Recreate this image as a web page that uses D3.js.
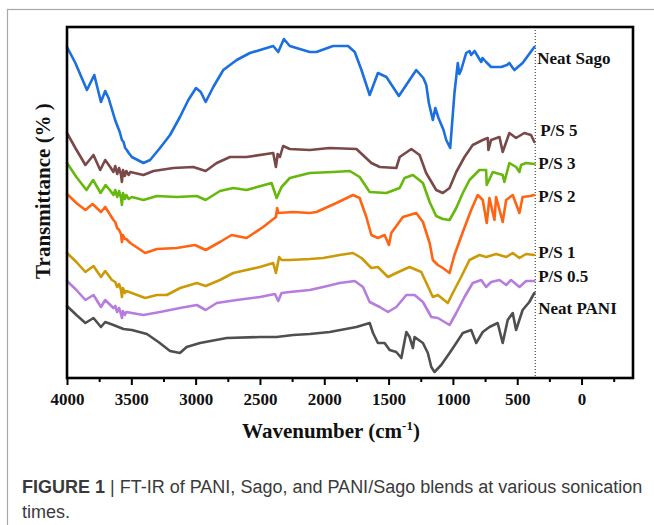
<!DOCTYPE html>
<html>
<head>
<meta charset="utf-8">
<script src="https://cdn.jsdelivr.net/npm/d3@7"></script>
<style>
  html, body { margin: 0; padding: 0; background: #fff; }
  svg { display: block; }
</style>
</head>
<body>
<svg id="chart" width="654" height="525"></svg>
<script>
// FT-IR spectra: [wavenumber (cm-1), transmittance (a.u., stacked offsets)]
const neatSago = [
  [4000,331],[3935,315],[3845,288],[3788,303],[3736,276],[3703,287],[3677,280],[3626,258],
  [3590,246],[3573,238],[3560,236],[3548,230],[3535,228],[3520,225],[3496,221],[3406,215],
  [3354,218],[3277,230],[3199,243],[3122,261],[3057,278],[2997,290],[2960,286],[2922,276],
  [2863,291],[2785,308],[2681,318],[2578,325],[2397,332],[2358,326],[2314,339],[2268,332],
  [2113,326],[2061,326],[1932,332],[1815,332],[1763,326],[1711,308],[1647,283],[1583,305],
  [1517,301],[1420,282],[1285,308],[1230,300],[1207,293],[1187,275],[1156,258],[1137,270],
  [1112,260],[1073,248],[1052,238],[1021,230],[988,285],[962,315],[950,304],[936,308],
  [897,325],[871,327],[858,323],[832,327],[780,316],[770,320],[742,316],[703,311],[625,311],
  [580,313],[561,315],[540,311],[522,308],[458,315],[367,331]
];
const ps5 = [
  [4000,245],[3935,230],[3857,213],[3794,223],[3742,208],[3703,218],[3664,211],[3639,206],
  [3625,212],[3610,204],[3595,210],[3580,203],[3573,196],[3565,208],[3550,202],[3539,207],
  [3520,203],[3508,206],[3406,203],[3328,207],[3173,210],[3018,211],[2922,207],[2836,215],
  [2733,221],[2604,221],[2397,225],[2376,211],[2362,224],[2345,221],[2320,232],[2268,229],
  [2113,228],[1958,230],[1750,229],[1634,215],[1569,211],[1440,210],[1414,221],[1323,229],
  [1259,223],[1208,205],[1130,188],[1078,185],[1026,190],[974,206],[910,221],[846,233],
  [768,238],[729,240],[724,228],[703,238],[638,241],[613,226],[561,245],[509,240],
  [445,245],[393,243],[367,236]
];
const ps3 = [
  [4000,215],[3927,201],[3849,188],[3797,198],[3739,185],[3700,193],[3667,188],[3639,183],
  [3625,188],[3610,181],[3595,187],[3580,180],[3573,173],[3565,185],[3550,179],[3539,183],
  [3520,179],[3496,181],[3406,178],[3301,182],[3147,181],[2991,182],[2922,178],[2811,187],
  [2708,190],[2604,188],[2410,195],[2370,180],[2332,191],[2268,200],[2113,205],[1932,206],
  [1802,207],[1725,201],[1647,186],[1517,185],[1414,190],[1376,200],[1311,203],[1233,195],
  [1181,176],[1130,162],[1078,159],[1026,158],[974,170],[923,185],[871,198],[794,208],
  [742,208],[737,193],[690,206],[613,203],[600,196],[561,215],[509,211],[483,206],
  [470,213],[431,215],[367,214]
];
const ps2 = [
  [4000,184],[3927,175],[3857,168],[3801,174],[3736,166],[3703,171],[3639,158],[3625,156],
  [3610,150],[3595,148],[3580,144],[3573,136],[3565,143],[3550,139],[3539,139],[3508,135],
  [3392,125],[3301,129],[3147,130],[3005,133],[2922,128],[2811,136],[2720,143],[2604,140],
  [2475,151],[2376,161],[2366,170],[2358,165],[2242,166],[2113,165],[2061,166],[1905,175],
  [1777,183],[1725,180],[1673,161],[1634,143],[1583,140],[1531,143],[1497,133],[1479,145],
  [1389,161],[1285,165],[1233,156],[1181,135],[1156,118],[1117,113],[1078,110],[1026,105],
  [988,123],[923,146],[858,168],[807,183],[768,178],[737,155],[716,180],[677,158],
  [664,181],[613,156],[586,178],[535,183],[483,165],[458,181],[400,182],[367,183]
];
const ps1 = [
  [4000,125],[3927,116],[3857,106],[3794,112],[3736,101],[3703,107],[3651,98],[3625,96],
  [3610,91],[3595,94],[3580,88],[3573,81],[3565,90],[3550,85],[3539,87],[3496,85],
  [3392,80],[3301,83],[3224,83],[3120,90],[2991,95],[2922,92],[2811,98],[2708,105],
  [2500,111],[2397,115],[2376,105],[2351,121],[2332,118],[2268,118],[2113,119],[2009,120],
  [1880,123],[1777,125],[1711,120],[1634,110],[1583,111],[1505,101],[1440,105],[1337,111],
  [1246,106],[1181,88],[1156,81],[1117,83],[1040,75],[1001,85],[936,101],[871,118],
  [794,123],[742,121],[664,124],[586,121],[535,125],[483,120],[431,124],[367,123]
];
const ps05 = [
  [4000,97],[3927,88],[3857,78],[3794,83],[3736,71],[3703,78],[3639,70],[3625,72],
  [3610,66],[3595,70],[3580,64],[3573,60],[3565,67],[3550,63],[3539,66],[3496,65],
  [3406,63],[3277,66],[3122,70],[2991,73],[2922,68],[2836,75],[2681,78],[2500,81],
  [2384,84],[2358,77],[2332,85],[2268,86],[2113,88],[2009,91],[1880,95],[1763,97],
  [1699,91],[1647,76],[1569,71],[1505,66],[1440,71],[1362,83],[1298,83],[1233,76],
  [1168,61],[1117,60],[1026,53],[974,65],[910,81],[846,95],[780,98],[742,91],
  [703,96],[638,98],[586,93],[548,98],[483,91],[431,97],[367,97]
];
const neatPani = [
  [4000,72],[3927,63],[3857,55],[3794,60],[3736,51],[3703,56],[3639,53],[3600,51],
  [3561,49],[3496,48],[3379,44],[3289,36],[3199,27],[3122,25],[3070,31],[2966,35],
  [2759,40],[2500,41],[2371,41],[2242,43],[2113,44],[1958,46],[1750,51],[1647,55],
  [1621,45],[1583,35],[1531,35],[1492,28],[1440,26],[1401,20],[1362,46],[1337,41],
  [1311,30],[1298,41],[1233,35],[1195,25],[1168,11],[1143,6],[1091,13],[1026,25],
  [974,35],[923,45],[858,48],[819,35],[768,46],[716,51],[652,55],[613,35],
  [574,58],[535,65],[509,48],[458,68],[406,76],[367,85]
];

const seriesNames = ["Neat Sago", "P/S 5", "P/S 3", "P/S 2", "P/S 1", "P/S 0.5", "Neat PANI"];
const seriesData = [neatSago, ps5, ps3, ps2, ps1, ps05, neatPani];
const seriesColors = ["#1b6fdf", "#7a4848", "#66b80c", "#ff6412", "#cc9a06", "#b67ddf", "#4f4f4f"];

const xTickValues = [4000, 3500, 3000, 2500, 2000, 1500, 1000, 500, 0];
const xMinorTicks = [3750, 3250, 2750, 2250, 1750, 1250, 750, 250, -250];
const cutoff = 360;

// Label placement (x offset from the cutoff line, pixel y)
const labelY = [58, 130, 163, 196, 252, 276, 308];
const labelDx = [2, 5, 3, 3, 3, 3, 3];

const svg = d3.select("#chart");
const W = 654, H = 525;
const margin = { left: 67, right: 633, top: 27, bottom: 378 };

// Card frame
svg.append("rect")
  .attr("x", 7.5).attr("y", 9.5)
  .attr("width", W + 10).attr("height", H + 10)
  .attr("fill", "none").attr("stroke", "#a8a8a8").attr("stroke-width", 1.2);

const x = d3.scaleLinear().domain([4000, -400]).range([margin.left, margin.right]);
const y = d3.scaleLinear().domain([0, 351]).range([margin.bottom, margin.top]);

// Dotted cutoff line
svg.append("line")
  .attr("x1", x(cutoff)).attr("x2", x(cutoff))
  .attr("y1", margin.top).attr("y2", margin.bottom)
  .attr("stroke", "#222").attr("stroke-width", 1)
  .attr("stroke-dasharray", "1,2");

// Spectra
const line = d3.line()
  .x(d => x(d[0]))
  .y(d => y(d[1]));

const g = svg.append("g");
seriesData.forEach((s, i) => {
  g.append("path")
    .datum(s)
    .attr("d", line)
    .attr("fill", "none")
    .attr("stroke", seriesColors[i])
    .attr("stroke-width", 2.6)
    .attr("stroke-linejoin", "round")
    .attr("stroke-linecap", "round");
});

// Series labels
seriesNames.forEach((name, i) => {
  svg.append("text")
    .attr("x", x(cutoff) + labelDx[i])
    .attr("y", labelY[i])
    .attr("dy", "0.35em")
    .attr("font-family", "'Liberation Serif', 'Times New Roman', serif")
    .attr("font-weight", "bold")
    .attr("font-size", 17)
    .attr("fill", "#111")
    .text(name);
});

// X axis ticks
const xAxis = d3.axisBottom(x)
  .tickValues(xTickValues)
  .tickSize(7)
  .tickPadding(8)
  .tickFormat(d3.format("d"));
const ax = svg.append("g")
  .attr("transform", `translate(0,${margin.bottom})`)
  .call(xAxis);
ax.select(".domain").remove();
ax.selectAll(".tick line").attr("stroke", "#000").attr("stroke-width", 2);
ax.selectAll(".tick text")
  .attr("font-family", "'Liberation Serif', 'Times New Roman', serif")
  .attr("font-weight", "bold")
  .attr("font-size", 17)
  .attr("fill", "#111");

const minor = d3.axisBottom(x).tickValues(xMinorTicks).tickSize(4).tickFormat("");
const mx = svg.append("g")
  .attr("transform", `translate(0,${margin.bottom})`)
  .call(minor);
mx.select(".domain").remove();
mx.selectAll(".tick line").attr("stroke", "#000").attr("stroke-width", 2);

// Plot frame
svg.append("rect")
  .attr("x", margin.left).attr("y", margin.top)
  .attr("width", margin.right - margin.left)
  .attr("height", margin.bottom - margin.top)
  .attr("fill", "none").attr("stroke", "#000").attr("stroke-width", 2.6);

// Axis titles
const xt = svg.append("text")
  .attr("x", 331).attr("y", 438)
  .attr("text-anchor", "middle")
  .attr("font-family", "'Liberation Serif', 'Times New Roman', serif")
  .attr("font-weight", "bold")
  .attr("font-size", 21)
  .attr("fill", "#111");
xt.append("tspan").text("Wavenumber (cm");
xt.append("tspan").attr("dy", -8).attr("font-size", 13).text("-1");
xt.append("tspan").attr("dy", 8).text(")");

svg.append("text")
  .attr("transform", "translate(50,191) rotate(-90)")
  .attr("text-anchor", "middle")
  .attr("font-family", "'Liberation Serif', 'Times New Roman', serif")
  .attr("font-weight", "bold")
  .attr("font-size", 21)
  .attr("fill", "#111")
  .text("Transmittance (% )");

// Caption
const cap = svg.append("text")
  .attr("x", 22).attr("y", 493)
  .attr("font-family", "'Liberation Sans', Arial, sans-serif")
  .attr("font-size", 18)
  .attr("fill", "#3a3a3a");
cap.append("tspan").attr("font-weight", "bold").text("FIGURE 1");
cap.append("tspan").text(" | FT-IR of PANI, Sago, and PANI/Sago blends at various sonication");
svg.append("text")
  .attr("x", 22).attr("y", 518)
  .attr("font-family", "'Liberation Sans', Arial, sans-serif")
  .attr("font-size", 18)
  .attr("fill", "#3a3a3a")
  .text("times.");
</script>
</body>
</html>
